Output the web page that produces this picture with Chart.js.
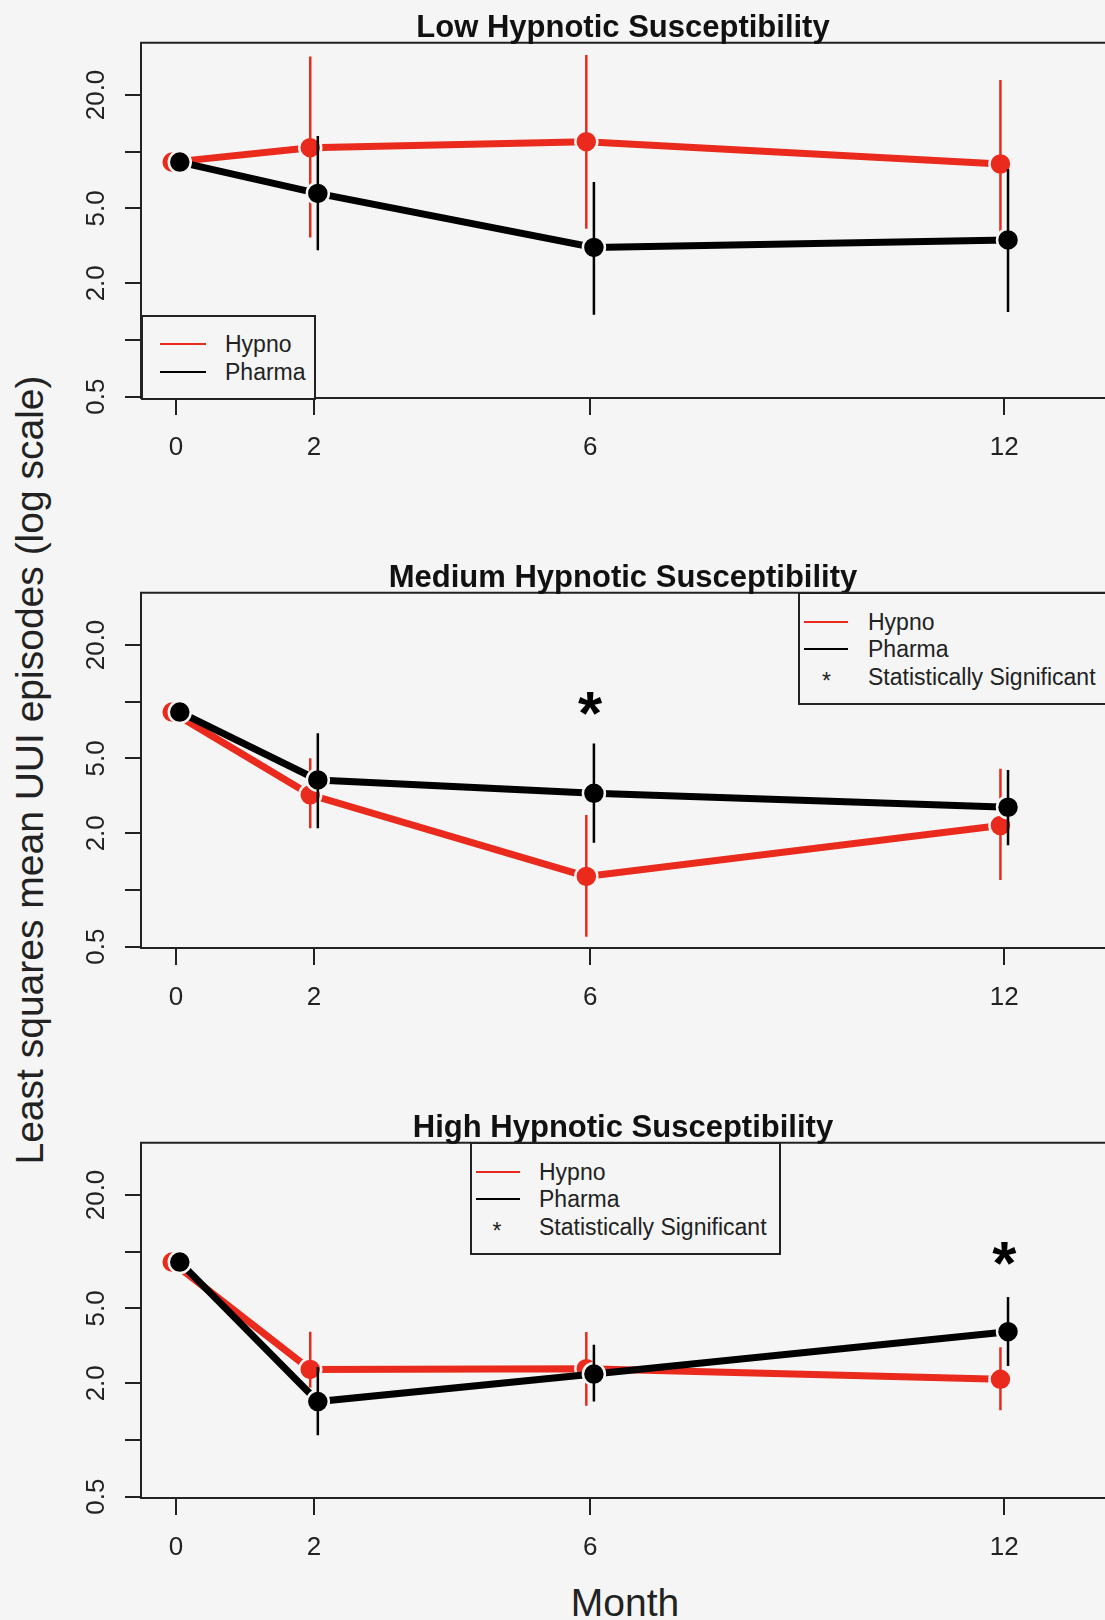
<!DOCTYPE html>
<html>
<head>
<meta charset="utf-8">
<script src="https://cdn.jsdelivr.net/npm/chart.js@4.4.1/dist/chart.umd.min.js"></script>
<style>
  body { margin: 0; background: #f4f5f4; width: 1105px; height: 1620px; position: relative; overflow: hidden;
         font-family: 'Liberation Sans', Arial, sans-serif; color: #222; }
  .panel { position: absolute; left: 0; width: 1105px; height: 550px; }
  .panel canvas { position: absolute; left: 0; top: 0; }
  .ptitle { position: absolute; left: 623px; top: 26.5px; transform: translate(-50%, -50%);
            font-weight: bold; font-size: 31px; white-space: nowrap; color: #111; }
  .legend { position: absolute; border: 2px solid #222; box-sizing: border-box; background: #f4f5f4; }
  .legend .sw { position: absolute; height: 2px; }
  .legend .txt { position: absolute; font-size: 23px; white-space: nowrap; transform: translateY(-50%); color: #222; }
  .legend .star { position: absolute; font-size: 23px; transform: translate(-50%, -35%); }
  #ytitle { position: absolute; left: 30px; top: 770px; transform: translate(-50%, -50%) rotate(-90deg);
            font-size: 39px; white-space: nowrap; }
  #xtitle { position: absolute; left: 625px; top: 1603px; transform: translate(-50%, -50%);
            font-size: 39px; white-space: nowrap; }
</style>
</head>
<body>
<div id="ytitle">Least squares mean UUI episodes (log scale)</div>
<div id="xtitle">Month</div>

<script>
// data
const months = [0, 2, 6, 12];
const monthTicks = [0, 2, 6, 12];
const yTicks = [0.5, 1, 2, 5, 10, 20];
const yTickLabels = ['0.5', '', '2.0', '5.0', '', '20.0'];
const panelTitles = ['Low Hypnotic Susceptibility', 'Medium Hypnotic Susceptibility', 'High Hypnotic Susceptibility'];
const legendLabels = ['Hypno', 'Pharma', 'Statistically Significant'];

// low susceptibility
const lowHypno = [8.8, 10.5, 11.3, 8.6];
const lowHypnoLo = [null, 3.5, 3.9, 3.1];
const lowHypnoHi = [null, 32.0, 32.6, 24.0];
const lowPharma = [8.8, 6.0, 3.1, 3.4];
const lowPharmaLo = [null, 3.0, 1.36, 1.41];
const lowPharmaHi = [null, 12.1, 6.9, 8.1];

// medium susceptibility
const medHypno = [8.8, 3.2, 1.18, 2.2];
const medHypnoLo = [null, 2.13, 0.565, 1.13];
const medHypnoHi = [null, 5.0, 2.5, 4.4];
const medPharma = [8.8, 3.84, 3.26, 2.75];
const medPharmaLo = [null, 2.13, 1.78, 1.73];
const medPharmaHi = [null, 6.8, 6.0, 4.34];

// high susceptibility
const highHypno = [8.8, 2.37, 2.39, 2.10];
const highHypnoLo = [null, 1.9, 1.52, 1.44];
const highHypnoHi = [null, 3.76, 3.74, 3.11];
const highPharma = [8.8, 1.6, 2.24, 3.76];
const highPharmaLo = [null, 1.06, 1.6, 2.47];
const highPharmaHi = [null, 2.44, 3.2, 5.74];

// months with a significant difference, and where the star sits
const lowSig = [];
const medSig = [6];
const highSig = [12];
const starLevel = 10;

const red = '#ea2a1c';
const black = '#000000';
const axisColor = '#222222';
const bg = '#f4f5f4';

const panels = [
  { title: panelTitles[0], hypno: [lowHypno, lowHypnoLo, lowHypnoHi], pharma: [lowPharma, lowPharmaLo, lowPharmaHi], sig: lowSig,
    legend: { left: 141, top: 315, width: 175, height: 85, sw: 19, swLen: 46, txt: 84, star: 0, rows: [344, 372], n: 2 } },
  { title: panelTitles[1], hypno: [medHypno, medHypnoLo, medHypnoHi], pharma: [medPharma, medPharmaLo, medPharmaHi], sig: medSig,
    legend: { left: 798, top: 41.7, width: 330, height: 113, sw: 6, swLen: 44, txt: 70, star: 28.5, rows: [71.7, 99.3, 127.3], n: 3 } },
  { title: panelTitles[2], hypno: [highHypno, highHypnoLo, highHypnoHi], pharma: [highPharma, highPharmaLo, highPharmaHi], sig: highSig,
    legend: { left: 470, top: 41.7, width: 311, height: 113, sw: 6, swLen: 44, txt: 69, star: 27, rows: [71.7, 99.3, 127.3], n: 3 } }
];

Chart.defaults.font.family = "'Liberation Sans', Arial, sans-serif";
Chart.defaults.color = axisColor;

const rPlotPlugin = {
  id: 'rplot',
  afterDraw(chart, args, opts) {
    const ctx = chart.ctx;
    const a = chart.chartArea;
    ctx.save();
    ctx.strokeStyle = axisColor;
    ctx.lineWidth = 2;
    ctx.beginPath();
    ctx.moveTo(chart.width, a.top);
    ctx.lineTo(a.left, a.top);
    ctx.lineTo(a.left, a.bottom);
    ctx.lineTo(chart.width, a.bottom);
    ctx.stroke();

    // y tick labels, rotated like R's las=0
    const ys = chart.scales.y;
    ctx.fillStyle = axisColor;
    ctx.font = "26px 'Liberation Sans', Arial, sans-serif";
    ctx.textAlign = 'center';
    ctx.textBaseline = 'middle';
    yTicks.forEach((v, i) => {
      if (!yTickLabels[i]) return;
      ctx.save();
      ctx.translate(97, ys.getPixelForValue(v));
      ctx.rotate(-Math.PI / 2);
      ctx.fillText(yTickLabels[i], 0, 0);
      ctx.restore();
    });

    // significance stars
    const xs = chart.scales.x;
    const size = 62;
    ctx.fillStyle = '#000';
    ctx.font = "bold " + size + "px 'Liberation Sans', Arial, sans-serif";
    ctx.textBaseline = 'alphabetic';
    (opts.sig || []).forEach(m => {
      ctx.fillText('*', xs.getPixelForValue(m), ys.getPixelForValue(starLevel) + size * 0.52);
    });
    ctx.restore();
  }
};

function seriesSets(vals, lo, hi, color, shift, label, lineOrder, barOrder) {
  const sets = [{
    label: label,
    data: months.map((m, i) => ({ x: m + shift, y: vals[i] })),
    borderColor: color,
    backgroundColor: color,
    borderWidth: 7,
    pointRadius: 11,
    pointBackgroundColor: color,
    pointBorderColor: bg,
    pointBorderWidth: 2.5,
    tension: 0,
    order: lineOrder
  }];
  months.forEach((m, i) => {
    if (lo[i] == null) return;
    sets.push({
      label: label + ' CI',
      data: [{ x: m + shift, y: lo[i] }, { x: m + shift, y: hi[i] }],
      borderColor: color,
      borderWidth: 2.5,
      pointRadius: 0,
      order: barOrder
    });
  });
  return sets;
}

panels.forEach((p, k) => {
  const div = document.createElement('div');
  div.className = 'panel';
  div.style.top = (k * 550) + 'px';
  document.body.appendChild(div);

  const canvas = document.createElement('canvas');
  canvas.width = 1105;
  canvas.height = 550;
  div.appendChild(canvas);

  const t = document.createElement('div');
  t.className = 'ptitle';
  t.textContent = p.title;
  div.appendChild(t);

  // legend box
  const L = p.legend;
  const lg = document.createElement('div');
  lg.className = 'legend';
  Object.assign(lg.style, { left: L.left + 'px', top: L.top + 'px', width: L.width + 'px', height: L.height + 'px' });
  div.appendChild(lg);
  for (let r = 0; r < L.n; r++) {
    const yy = L.rows[r] - L.top - 2;
    if (r < 2) {
      const sw = document.createElement('div');
      sw.className = 'sw';
      Object.assign(sw.style, { left: (L.sw - 2) + 'px', top: (yy - 1) + 'px', width: L.swLen + 'px', background: r === 0 ? red : black });
      lg.appendChild(sw);
    } else {
      const st = document.createElement('div');
      st.className = 'star';
      st.textContent = '*';
      Object.assign(st.style, { left: (L.star - 2) + 'px', top: yy + 'px' });
      lg.appendChild(st);
    }
    const tx = document.createElement('div');
    tx.className = 'txt';
    tx.textContent = legendLabels[r];
    Object.assign(tx.style, { left: (L.txt - 2) + 'px', top: yy + 'px' });
    lg.appendChild(tx);
  }

  const datasets = [
    ...seriesSets(p.hypno[0], p.hypno[1], p.hypno[2], red, -0.055, 'Hypno', 3, 2),
    ...seriesSets(p.pharma[0], p.pharma[1], p.pharma[2], black, 0.055, 'Pharma', 1, 0)
  ];

  new Chart(canvas.getContext('2d'), {
    type: 'line',
    data: { datasets: datasets },
    plugins: [rPlotPlugin],
    options: {
      responsive: false,
      animation: false,
      events: [],
      layout: { autoPadding: false, padding: { top: 42.7, left: 0, right: 0, bottom: 0 } },
      plugins: {
        legend: { display: false },
        tooltip: { enabled: false },
        rplot: { sig: p.sig }
      },
      scales: {
        x: {
          type: 'linear',
          min: -0.507,
          max: 13.46,
          afterBuildTicks: s => { s.ticks = monthTicks.map(v => ({ value: v })); },
          afterFit: s => { s.height = 152; },
          border: { display: false },
          grid: { drawOnChartArea: false, drawTicks: true, tickLength: 17, color: axisColor, lineWidth: 2 },
          ticks: { autoSkip: false, maxRotation: 0, padding: 17, color: axisColor, font: { size: 26 },
                   callback: v => String(v) }
        },
        y: {
          type: 'logarithmic',
          min: 0.492,
          max: 37.9,
          afterBuildTicks: s => { s.ticks = yTicks.map(v => ({ value: v })); },
          afterFit: s => { s.width = 141; },
          border: { display: false },
          grid: { drawOnChartArea: false, drawTicks: true, tickLength: 16, color: axisColor, lineWidth: 2 },
          ticks: { display: false }
        }
      }
    }
  });
});
</script>
</body>
</html>
